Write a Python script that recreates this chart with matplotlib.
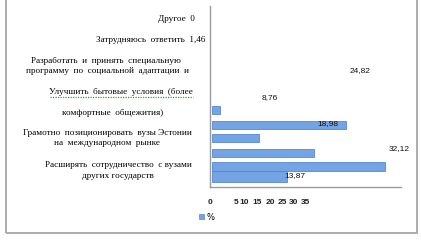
import numpy as np
import matplotlib
matplotlib.use('Agg')
import matplotlib.pyplot as plt
from matplotlib.patches import Rectangle
from matplotlib.lines import Line2D

# data (top -> bottom)
categories = ['Другое', 'Затрудняюсь ответить',
              'Разработать и принять специальную программу по социальной адаптации и',
              'Улучшить бытовые условия (более комфортные общежития)',
              'Грамотно позиционировать вузы Эстонии на международном рынке',
              'Расширять сотрудничество с вузами других государств', '']
values = [0, 1.46, 24.82, 8.76, 18.98, 32.12, 13.87]
value_labels = ['0', '1,46', '24,82', '8,76', '18,98', '32,12', '13,87']
tick_labels = ['0', '5', '10', '15', '20', '25', '30', '35']
series_name = '%'

W, H = 421, 240
def fx(px):
    return px / W
def fy(py):
    return 1 - py / H

fig = plt.figure(figsize=(W / 100, H / 100), dpi=100)

# outer frame
fig.patches.append(Rectangle((fx(6), fy(233)), fx(417) - fx(6), 1.1, transform=fig.transFigure,
                             fill=False, edgecolor='#a6a6a6', lw=1.3))

ax = fig.add_axes([fx(210), fy(187), fx(401) - fx(210), fy(6) - fy(187)])
ax.set_facecolor('none')

# bars are squeezed into the lower part, slot unit ~14px
slots = [0, 0.95, 2.0, 2.95, 4.0, 4.95, 5.68]
heights = [0.6, 0.6, 0.6, 0.6, 0.6, 0.65, 0.8]
ax.barh(slots[1:], values[1:], height=heights[1:], color='#74a4e4',
        edgecolor='#5587cf', linewidth=0.6)
ax.set_xlim(0, 35)
ax.set_ylim(6.43, -6.5)

for s in ['top', 'right']:
    ax.spines[s].set_visible(False)
ax.spines['left'].set_color('#9a9a9a')
ax.spines['bottom'].set_color('#9a9a9a')
ax.spines['left'].set_linewidth(1.0)
ax.spines['bottom'].set_linewidth(1.0)
ax.set_yticks([])

# the tick labels sit squeezed together, not on their values
tick_pos = [-0.3, 4.6, 6.0, 8.4, 10.8, 13.0, 15.2, 17.4]
ax.set_xticks(tick_pos)
ax.set_xticklabels(tick_labels, fontsize=6, family='Liberation Sans', fontweight='bold', color='#222222')
ax.tick_params(axis='x', length=0, pad=9)

# category labels (line by line as in the picture)
serif = 'Liberation Serif'
cat_lines = [
    ('Другое  ' + value_labels[0], 195, 19, 'right'),
    ('Затрудняюсь  ответить  ' + value_labels[1], 205, 40, 'right'),
    ('Разработать  и  принять  специальную', 106, 61, 'center'),
    ('программу  по  социальной  адаптации  и', 107, 71, 'center'),
    ('Улучшить  бытовые  условия  (более', 121, 92, 'center'),
    ('комфортные  общежития)', 113, 113, 'center'),
    ('Грамотно  позиционировать  вузы Эстонии', 107, 133, 'center'),
    ('на  международном  рынке', 107, 143, 'center'),
    ('Расширять  сотрудничество  с вузами', 118, 165, 'center'),
    ('других государств', 118, 176, 'center'),
]
for txt, x, y, ha in cat_lines:
    fig.text(fx(x), fy(y), txt, ha=ha, va='center', fontsize=6.6, family=serif, color='#000000')

# spell-check underline
fig.lines.append(Line2D([fx(50), fx(193)], [fy(97), fy(97)], transform=fig.transFigure,
                        color='#3c9a3c', lw=0.9, ls=(0, (1, 1))))

# value labels scattered around
val_pos = [(360, 71), (270, 98), (328, 124), (399, 149), (295, 176)]
for lab, (x, y) in zip(value_labels[2:], val_pos):
    fig.text(fx(x), fy(y), lab, ha='center', va='center', fontsize=6, family='Liberation Sans',
             color='#111111')

handle = Rectangle((0, 0), 1, 1, facecolor='#74a4e4', edgecolor='#5587cf', lw=0.5)
fig.legend([handle], [series_name], loc='center left', bbox_to_anchor=(fx(199), fy(217)),
           frameon=False, fontsize=6, handlelength=0.6, handleheight=0.6, handletextpad=0.3,
           borderpad=0, borderaxespad=0)

fig.savefig('out.png', dpi=100)
